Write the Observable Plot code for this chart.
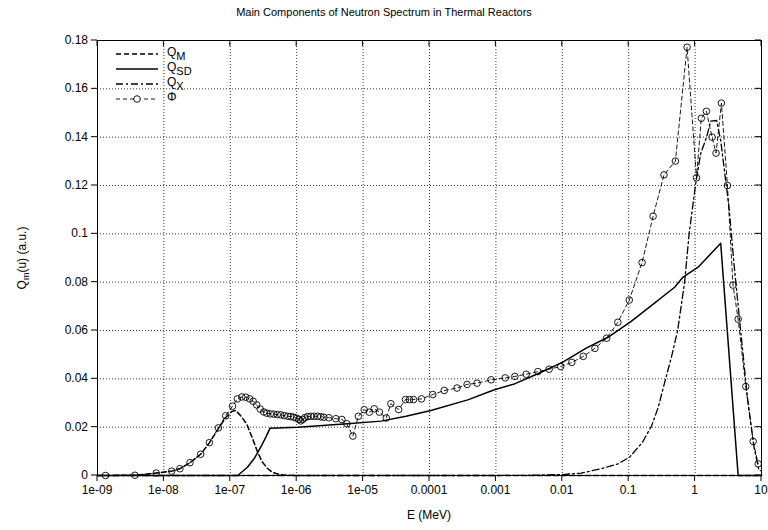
<!DOCTYPE html>
<html><head><meta charset="utf-8">
<script src="https://cdn.jsdelivr.net/npm/d3@7"></script>
<script src="https://cdn.jsdelivr.net/npm/@observablehq/plot@0.6"></script>
<style>
body{margin:0;background:#fff}
#chart svg{font-family:"Liberation Sans",Arial,Helvetica,sans-serif;background:#fff}
</style>
</head><body><div id="chart"></div>
<script>
const title = "Main Components of Neutron Spectrum in Thermal Reactors";
const xLabel = "E (MeV)";
const xTicks = [1e-9,1e-8,1e-7,1e-6,1e-5,1e-4,1e-3,1e-2,1e-1,1,10];
const xTickLabels = ["1e-09","1e-08","1e-07","1e-06","1e-05","0.0001","0.001","0.01","0.1","1","10"];
const yTicks = [0,0.02,0.04,0.06,0.08,0.1,0.12,0.14,0.16,0.18];
const yTickLabels = ["0","0.02","0.04","0.06","0.08","0.1","0.12","0.14","0.16","0.18"];
const seriesSubs = ["M","SD","X"];
const phiName = "\u03A6";

// Phi (total spectrum, markers)
const phiE = [1.32e-9,3.66e-9,7.67e-9,1.31e-8,1.74e-8,2.47e-8,3.58e-8,4.84e-8,6.62e-8,8.53e-8,
  1.08e-7,1.28e-7,1.49e-7,1.71e-7,1.96e-7,2.21e-7,2.50e-7,2.82e-7,3.19e-7,3.54e-7,
  4.00e-7,4.52e-7,5.09e-7,5.75e-7,6.50e-7,7.35e-7,8.15e-7,9.03e-7,1.00e-6,1.08e-6,
  1.15e-6,1.24e-6,1.32e-6,1.46e-6,1.63e-6,1.83e-6,2.06e-6,2.31e-6,2.56e-6,3.05e-6,
  3.89e-6,4.79e-6,5.70e-6,7.01e-6,8.49e-6,1.04e-5,1.24e-5,1.47e-5,1.76e-5,2.23e-5,
  2.62e-5,3.43e-5,4.35e-5,4.99e-5,5.74e-5,7.57e-5,1.12e-4,1.67e-4,2.60e-4,3.68e-4,
  5.20e-4,8.47e-4,1.38e-3,1.93e-3,2.86e-3,4.29e-3,6.34e-3,9.46e-3,1.39e-2,2.07e-2,
  3.10e-2,4.65e-2,6.86e-2,0.102,0.159,0.233,0.340,0.505,0.757,1.05,
  1.24,1.48,1.80,2.07,2.49,3.07,3.72,4.45,5.80,7.49,8.91];
const phiV = [0,0.0001,0.001,0.0018,0.0028,0.0053,0.0088,0.0136,0.0197,0.0247,
  0.0287,0.0317,0.0325,0.0324,0.0317,0.0307,0.0292,0.0275,0.0263,0.0258,
  0.0255,0.0254,0.0252,0.0251,0.0248,0.0245,0.0244,0.0241,0.0237,0.0232,
  0.0226,0.0232,0.0239,0.0244,0.0245,0.0245,0.0245,0.0243,0.0241,0.0239,
  0.0235,0.0232,0.0214,0.0163,0.0245,0.0272,0.0262,0.0276,0.0262,0.0238,
  0.0297,0.0273,0.0314,0.0314,0.0314,0.0317,0.0335,0.0352,0.0362,0.0377,
  0.0382,0.0396,0.0404,0.0410,0.0419,0.0430,0.0440,0.0451,0.0468,0.0493,
  0.0526,0.0568,0.0634,0.0726,0.0881,0.1073,0.1244,0.1301,0.1772,0.1232,
  0.1478,0.1507,0.1400,0.1334,0.1541,0.1200,0.0788,0.0647,0.0368,0.0141,0.0048];

// Q_M (Maxwellian thermal component)
const qmE = [1e-9,3.66e-9,7.67e-9,1.31e-8,1.74e-8,2.47e-8,3.58e-8,4.84e-8,6.62e-8,8.53e-8,
  1.05e-7,1.2e-7,1.45e-7,1.79e-7,2.15e-7,2.55e-7,3.0e-7,3.6e-7,4.3e-7,5.4e-7,7e-7,1e-6,10];
const qmV = [0,0.0001,0.001,0.0018,0.0028,0.0053,0.0088,0.0135,0.0194,0.0240,
  0.0265,0.0269,0.0246,0.0210,0.0155,0.0100,0.0058,0.0030,0.0013,0.0005,0.0001,0,0];

// Q_SD (slowing-down component)
const qsdE = [1e-9,1.3e-7,1.81e-7,2.28e-7,2.87e-7,3.42e-7,3.97e-7,1.03e-6,5.82e-6,1.86e-5,
  4.43e-5,1.05e-4,3.77e-4,9.48e-4,1.9e-3,4.28e-3,1.02e-2,2.29e-2,4.87e-2,0.109,
  0.219,0.492,0.659,1.11,2.43,4.45,10];
const qsdV = [0,0,0.0034,0.0069,0.0117,0.0158,0.0196,0.0200,0.0214,0.0225,
  0.0245,0.0269,0.0313,0.0355,0.0379,0.0421,0.0469,0.0527,0.0572,0.0638,
  0.0703,0.0779,0.0821,0.0862,0.0961,0,0];

// Q_X (fission component)
const qxE = [1e-9,1e-3,3.4e-3,1.02e-2,1.93e-2,3.86e-2,6.9e-2,0.103,0.160,0.221,
  0.277,0.360,0.440,0.546,0.695,0.813,1.02,1.21,1.49,1.71,
  2.11,2.43,2.89,3.24,3.85,4.85,6.13,7.71,9.17,10];
const qxV = [0,0,0.0001,0.0004,0.001,0.0028,0.0048,0.0076,0.0136,0.0205,
  0.028,0.040,0.049,0.060,0.080,0.100,0.1207,0.1331,0.1400,0.1466,
  0.1469,0.1386,0.1220,0.1110,0.0876,0.0600,0.0324,0.0117,0.0021,0.002];

const toRows = (E, V) => E.map((e, i) => ({E: e, v: V[i]}));
const phi = toRows(phiE, phiV), qm = toRows(qmE, qmV), qsd = toRows(qsdE, qsdV), qx = toRows(qxE, qxV);

const dashM = "5,3", dashX = "7,3,2,3", dashPhi = "4,3";

const plot = Plot.plot({
  width: 768, height: 530,
  marginLeft: 97, marginRight: 7, marginTop: 40, marginBottom: 55,
  style: {fontFamily: '"Liberation Sans",Arial,sans-serif', fontSize: "12px", color: "#000", background: "#fff"},
  x: {type: "log", domain: [1e-9, 10], axis: null},
  y: {domain: [0, 0.18], axis: null},
  marks: [
    Plot.gridX(xTicks, {stroke: "#000", strokeOpacity: 1, strokeWidth: 0.8, strokeDasharray: "1,2"}),
    Plot.gridY(yTicks, {stroke: "#000", strokeOpacity: 1, strokeWidth: 0.8, strokeDasharray: "1,2"}),
    Plot.line(qx, {x: "E", y: "v", stroke: "#000", strokeWidth: 1.3, strokeDasharray: dashX}),
    Plot.line(qm, {x: "E", y: "v", stroke: "#000", strokeWidth: 1.5, strokeDasharray: dashM}),
    Plot.line(qsd, {x: "E", y: "v", stroke: "#000", strokeWidth: 1.5}),
    Plot.line(phi, {x: "E", y: "v", stroke: "#000", strokeWidth: 0.9, strokeDasharray: dashPhi}),
    Plot.dot(phi, {x: "E", y: "v", r: 3.3, stroke: "#000", strokeWidth: 0.9, fill: "none"}),
    Plot.frame({stroke: "#000", strokeWidth: 1})
  ]
});
document.getElementById("chart").appendChild(plot);

const svg = d3.select(plot);
const ff = '"Liberation Sans",Arial,sans-serif';
const xs = plot.scale("x"), ys = plot.scale("y");
const L = 97, R = 768 - 7, T = 40, B = 530 - 55, TK = 6;

// axes: ticks (outward left/bottom, inward mirrored top/right) drawn from the plot's own scales
const ax = svg.append("g").attr("stroke", "#000").attr("stroke-width", 1);
xTicks.forEach(v => {
  const px = xs.apply(v);
  ax.append("line").attr("x1", px).attr("x2", px).attr("y1", B).attr("y2", B + TK);
  ax.append("line").attr("x1", px).attr("x2", px).attr("y1", T).attr("y2", T + TK);
});
yTicks.forEach(v => {
  const py = ys.apply(v);
  ax.append("line").attr("x1", L - TK).attr("x2", L).attr("y1", py).attr("y2", py);
  ax.append("line").attr("x1", R - TK).attr("x2", R).attr("y1", py).attr("y2", py);
});
const lab = svg.append("g").attr("font-family", ff).attr("font-size", 12).attr("fill", "#000");
xTicks.forEach((v, i) => {
  lab.append("text").attr("x", xs.apply(v)).attr("y", B + 19).attr("text-anchor", "middle").text(xTickLabels[i]);
});
yTicks.forEach((v, i) => {
  lab.append("text").attr("x", L - 9).attr("y", ys.apply(v) + 4).attr("text-anchor", "end").text(yTickLabels[i]);
});

// title
svg.append("text").attr("x", 384).attr("y", 16).attr("text-anchor", "middle")
  .attr("font-size", 11).attr("font-family", ff).attr("fill", "#000").text(title);
// x label
svg.append("text").attr("x", 429).attr("y", 519).attr("text-anchor", "middle")
  .attr("font-size", 12).attr("font-family", ff).attr("fill", "#000").text(xLabel);
// y label with subscript
const yl = svg.append("text").attr("transform", "translate(26,258) rotate(-90)")
  .attr("text-anchor", "middle").attr("font-size", 12).attr("font-family", ff).attr("fill", "#000");
yl.append("tspan").text("Q");
yl.append("tspan").attr("dy", 3).attr("font-size", 9).text("m");
yl.append("tspan").attr("dy", -3).text("(u) (a.u.)");

// legend
const lg = svg.append("g").attr("font-family", ff).attr("font-size", 12).attr("fill", "#000").attr("text-anchor", "start");
const items = [
  {label: "Q", sub: seriesSubs[0], dash: dashM, w: 1.5},
  {label: "Q", sub: seriesSubs[1], dash: null, w: 1.5},
  {label: "Q", sub: seriesSubs[2], dash: dashX, w: 1.3},
  {label: phiName, sub: "", dash: dashPhi, w: 0.9, marker: true}
];
const ly = [54, 69, 84, 99];
items.forEach((it, i) => {
  const y = ly[i];
  const ln = lg.append("line").attr("x1", 116).attr("x2", 158).attr("y1", y).attr("y2", y)
    .attr("stroke", "#000").attr("stroke-width", it.w);
  if (it.dash) ln.attr("stroke-dasharray", it.dash);
  if (it.marker) lg.append("circle").attr("cx", 137).attr("cy", y).attr("r", 3.3)
    .attr("fill", "#fff").attr("stroke", "#000").attr("stroke-width", 0.9);
  const t = lg.append("text").attr("x", 167).attr("y", y + 2);
  t.append("tspan").text(it.label);
  if (it.sub) t.append("tspan").attr("dy", 4).attr("font-size", 11).text(it.sub);
});
</script>
</body></html>
